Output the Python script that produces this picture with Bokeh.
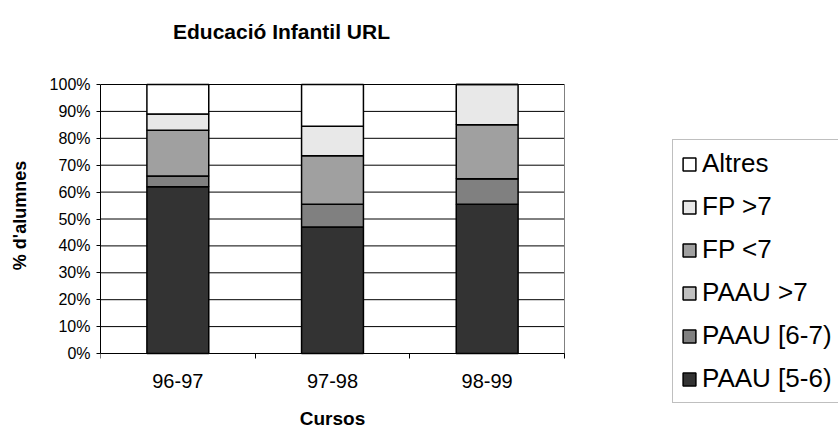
from bokeh.plotting import figure
from bokeh.models import (ColumnDataSource, FixedTicker, PrintfTickFormatter, Legend,
                          LegendItem, Range1d, Label)
from bokeh.embed import file_html
from bokeh.resources import INLINE

# ---- data ----
cursos = ["96-97", "97-98", "98-99"]
paau_5_6 = [62, 47, 55.5]
paau_6_7 = [4, 8.5, 9.5]
paau_gt7 = [0, 0, 0]
fp_lt7 = [17, 18, 20]
fp_gt7 = [6, 11, 15]
altres = [11, 15.5, 0]
y_ticks = [0, 10, 20, 30, 40, 50, 60, 70, 80, 90, 100]

series = ["paau_5_6", "paau_6_7", "paau_gt7", "fp_lt7", "fp_gt7", "altres"]
labels = ["PAAU [5-6)", "PAAU [6-7)", "PAAU >7", "FP <7", "FP >7", "Altres"]
colors = ["#333333", "#808080", "#C0C0C0", "#A0A0A0", "#E8E8E8", "#FFFFFF"]
title_text = "Educació Infantil URL"

FONT = "Liberation Sans"

# ---- layout geometry (pixels) ----
W, H = 838, 430
LEFT, TOP = 100, 84                # top-left corner of the bar area
PLOT_W, PLOT_H = 464, 269          # bar area (3 categories, 0-100 %)
frame_w = W - LEFT
n = len(cursos)
x_end = n * frame_w / PLOT_W
y_start = -100 * (H - TOP - PLOT_H) / PLOT_H
y_end = 100 + 100 * TOP / PLOT_H

xpos = [i + 0.5 for i in range(n)]
source = ColumnDataSource(dict(x=xpos, paau_5_6=paau_5_6, paau_6_7=paau_6_7,
                               paau_gt7=paau_gt7, fp_lt7=fp_lt7, fp_gt7=fp_gt7,
                               altres=altres))

p = figure(width=W, height=H, output_backend="svg", toolbar_location=None, title=None,
           x_range=Range1d(0, x_end), y_range=Range1d(y_start, y_end),
           min_border_left=LEFT, min_border_right=0, min_border_top=0,
           min_border_bottom=0)
p.background_fill_color = "white"
p.border_fill_color = "white"
p.outline_line_color = None
p.xgrid.visible = False
p.ygrid.visible = False

# gridlines limited to the bar area
p.segment(x0=[0] * len(y_ticks), x1=[n] * len(y_ticks), y0=y_ticks, y1=y_ticks,
          line_color="black", line_width=1, level="underlay")
# right border of plot area
p.segment(x0=[n], x1=[n], y0=[0], y1=[100], line_color="#808080", line_width=1,
          level="underlay")

renderers = p.vbar_stack(series, x="x", width=0.4, source=source, fill_color=colors,
                         line_color="black", line_width=1.5)

# title (drawn as a text label above the bar area)
title_x = n * (172.5 - LEFT) / PLOT_W
title_y = 100 + 100 * (TOP - 30.5) / PLOT_H
p.add_layout(Label(x=title_x, y=title_y, text=title_text, text_font=FONT,
                   text_font_size="21px", text_font_style="bold", text_color="black",
                   text_align="left", text_baseline="alphabetic"))

# y axis
p.yaxis.bounds = (0, 100)
p.yaxis.ticker = FixedTicker(ticks=y_ticks)
p.yaxis.formatter = PrintfTickFormatter(format="%d%%")
p.yaxis.major_label_text_font = FONT
p.yaxis.major_label_text_font_size = "16px"
p.yaxis.major_label_text_color = "black"
p.yaxis.major_tick_out = 4
p.yaxis.major_tick_in = 0
p.yaxis.minor_tick_line_color = None
p.yaxis.axis_line_color = "black"
p.yaxis.major_tick_line_color = "black"
p.yaxis.major_label_standoff = 6
p.yaxis.axis_label = "% d'alumnes"
p.yaxis.axis_label_text_font = FONT
p.yaxis.axis_label_text_font_size = "18px"
p.yaxis.axis_label_text_font_style = "bold"
p.yaxis.axis_label_text_color = "black"
p.yaxis.axis_label_standoff = 17

# x axis, placed at y = 0
p.xaxis.fixed_location = 0
p.xaxis.bounds = (0, n)
p.xaxis.ticker = FixedTicker(ticks=xpos, minor_ticks=[float(i) for i in range(n + 1)])
p.xaxis.major_label_overrides = {x: c for x, c in zip(xpos, cursos)}
p.xaxis.major_label_text_font = FONT
p.xaxis.major_label_text_font_size = "20px"
p.xaxis.major_label_text_color = "black"
p.xaxis.major_tick_out = 0
p.xaxis.major_tick_in = 0
p.xaxis.minor_tick_out = 5
p.xaxis.minor_tick_in = 0
p.xaxis.minor_tick_line_color = "black"
p.xaxis.axis_line_color = "black"
p.xaxis.major_label_standoff = 15
p.xaxis.axis_label = "Cursos"
p.xaxis.axis_label_text_font = FONT
p.xaxis.axis_label_text_font_size = "19px"
p.xaxis.axis_label_text_font_style = "bold"
p.xaxis.axis_label_text_color = "black"
p.xaxis.axis_label_standoff = 17

items = [LegendItem(label=lab, renderers=[r]) for lab, r in zip(labels, renderers)][::-1]
legend = Legend(items=items, location=(572, 27), orientation="vertical",
                label_text_font=FONT, label_text_font_size="26px", label_text_color="black",
                glyph_width=16, glyph_height=16, label_standoff=5, spacing=12,
                padding=8, margin=0, border_line_color="#808080", border_line_width=1.5,
                background_fill_color="white", background_fill_alpha=1.0)
p.add_layout(legend, "center")

open("out.html", "w").write(file_html(p, INLINE))
